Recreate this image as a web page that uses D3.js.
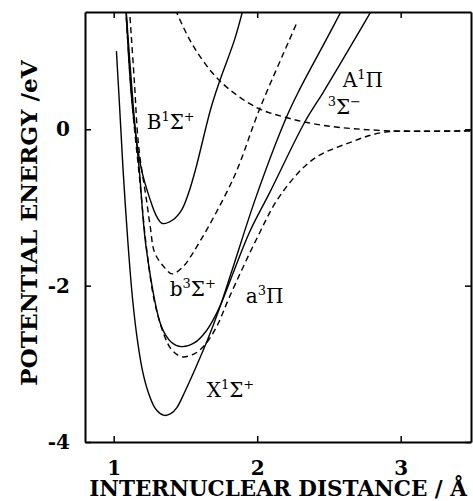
<!DOCTYPE html>
<html>
<head>
<meta charset="utf-8">
<script src="https://cdn.jsdelivr.net/npm/d3@7"></script>
<style>
  html, body { margin: 0; padding: 0; background: #fff; }
</style>
</head>
<body>
<div id="chart"></div>
<script>
// potential energy curves, [r (Å), E (eV)]
const stateX = [[1.019, 1.0], [1.042, 0.26], [1.065, -0.51], [1.10, -1.47], [1.132, -2.18], [1.167, -2.72],
  [1.202, -3.10], [1.240, -3.36], [1.286, -3.56], [1.32, -3.63], [1.355, -3.66], [1.40, -3.635],
  [1.44, -3.56], [1.495, -3.36], [1.576, -3.03], [1.655, -2.69], [1.739, -2.28], [1.822, -1.82],
  [1.994, -0.855], [2.203, 0.15], [2.296, 0.51], [2.482, 1.15], [2.60, 1.56]]
const stateA = [[1.085, 1.56], [1.138, 0.26], [1.178, -0.51], [1.228, -1.54], [1.332, -2.52], [1.40, -2.72],
  [1.472, -2.78], [1.564, -2.73], [1.641, -2.59], [1.704, -2.40], [1.760, -2.18], [1.815, -1.92],
  [1.948, -1.31], [2.087, -0.81], [2.331, 0.09], [2.459, 0.47], [2.679, 1.15], [2.81, 1.56]]
const stateB = [[1.085, 1.56], [1.132, 0.26], [1.193, -0.51], [1.254, -0.90], [1.298, -1.11], [1.339, -1.205],
  [1.411, -1.16], [1.474, -1.03], [1.523, -0.81], [1.571, -0.51], [1.676, 0.26], [1.739, 0.62],
  [1.843, 1.15], [1.905, 1.56]]
const stateb = [[1.109, 1.56], [1.143, 0.64], [1.174, -0.22], [1.228, -0.90], [1.255, -1.25], [1.286, -1.58],
  [1.355, -1.77], [1.408, -1.85], [1.477, -1.77], [1.553, -1.58], [1.831, -0.64], [2.017, 0.26],
  [2.226, 1.15], [2.282, 1.385]]
const statea = [[1.083, 1.56], [1.132, 0.26], [1.181, -0.64], [1.23, -1.54], [1.286, -2.22], [1.355, -2.65],
  [1.404, -2.82], [1.474, -2.91], [1.564, -2.87], [1.634, -2.76], [1.716, -2.53], [1.808, -2.14],
  [1.994, -1.41], [2.157, -0.855], [2.389, -0.385], [2.645, -0.17], [2.877, -0.04], [3.2, -0.025], [3.5, -0.02]]
const stateSigmaMinus = [[1.43, 1.53], [1.553, 1.07], [1.739, 0.62], [1.994, 0.28], [2.203, 0.15],
  [2.459, 0.05], [2.923, -0.02], [3.5, -0.02]]

const xTicks = [1, 2, 3]
const yTicks = [0, -2, -4]

const curves = [
  {points: stateX, dashed: false},
  {points: stateA, dashed: false},
  {points: stateB, dashed: false},
  {points: stateb, dashed: true},
  {points: statea, dashed: true},
  {points: stateSigmaMinus, dashed: true},
]

// state labels: parts with superscript flags, anchored at (r, E)
const labels = [
  {parts: [["B"], ["1", 1], ["Σ"], ["+", 1]], r: 1.23, e: 0.0},
  {parts: [["A"], ["1", 1], ["Π"]], r: 2.596, e: 0.54},
  {parts: [["3", 1], ["Σ"], ["−", 1]], r: 2.491, e: 0.19},
  {parts: [["b"], ["3", 1], ["Σ"], ["+", 1]], r: 1.39, e: -2.13},
  {parts: [["a"], ["3", 1], ["Π"]], r: 1.92, e: -2.22},
  {parts: [["X"], ["1", 1], ["Σ"], ["+", 1]], r: 1.648, e: -3.42},
]

let width = 473
let height = 501
let margin = {top: 12, right: 2, bottom: 59, left: 85}
let inner_w = width - margin.left - margin.right
let inner_h = height - margin.top - margin.bottom

let serif = "DejaVu Serif"

let x = d3.scaleLinear().domain([0.8, 3.49]).range([0, inner_w])
let y = d3.scaleLinear().domain([-4, 1.5]).range([inner_h, 0])

let svg = d3.select("#chart").append("svg")
  .attr("width", width)
  .attr("height", height)
  .attr("viewBox", [0, 0, width, height])

let g = svg.append("g").attr("transform", `translate(${margin.left},${margin.top})`)

g.append("clipPath").attr("id", "plot-clip")
  .append("rect").attr("width", inner_w).attr("height", inner_h)

// curves
let line = d3.line()
  .x(d => x(d[0]))
  .y(d => y(d[1]))
  .curve(d3.curveCatmullRom.alpha(0.5))

g.append("g").attr("clip-path", "url(#plot-clip)")
  .selectAll("path")
  .data(curves)
  .join("path")
  .attr("d", d => line(d.points))
  .attr("fill", "none")
  .attr("stroke", "#000")
  .attr("stroke-width", 1.4)
  .attr("stroke-dasharray", d => d.dashed ? "6,4" : null)

// axes, ticks pointing inward
let styleAxis = sel => {
  sel.select(".domain").attr("stroke-width", 2)
  sel.selectAll(".tick line").attr("stroke-width", 1.5)
  sel.selectAll("text")
    .attr("font-family", serif).attr("font-weight", "bold").attr("font-size", 20).attr("fill", "#000")
}

g.append("g").attr("transform", `translate(0,${inner_h})`)
  .call(d3.axisBottom(x).tickValues(xTicks).tickSizeInner(-6).tickSizeOuter(0).tickPadding(19).tickFormat(d3.format("d")))
  .call(styleAxis)

g.append("g")
  .call(d3.axisTop(x).tickValues(xTicks).tickSizeInner(-6).tickSizeOuter(0).tickFormat(""))
  .call(styleAxis)

g.append("g")
  .call(d3.axisLeft(y).tickValues(yTicks).tickSizeInner(-6).tickSizeOuter(0).tickPadding(15).tickFormat(d3.format("d")))
  .call(styleAxis)

g.append("g").attr("transform", `translate(${inner_w},0)`)
  .call(d3.axisRight(y).tickValues(yTicks).tickSizeInner(-6).tickSizeOuter(0).tickFormat(""))
  .call(styleAxis)

// hyphen-style minus like the original
g.selectAll(".tick text").text(function() { return this.textContent.replace("−", "-") })

// state labels
let lab = g.append("g")
  .selectAll("text")
  .data(labels)
  .join("text")
  .attr("x", d => x(d.r))
  .attr("y", d => y(d.e))
  .attr("font-family", serif)
  .attr("font-size", 20)
  .attr("fill", "#000")

lab.each(function(d) {
  let t = d3.select(this)
  let raised = false
  d.parts.forEach(([s, sup]) => {
    let dy = 0
    if (sup && !raised) { dy = -8; raised = true }
    if (!sup && raised) { dy = 8; raised = false }
    t.append("tspan")
      .attr("dy", dy)
      .attr("font-size", sup ? 13 : 20)
      .text(s)
  })
})

// axis titles, sized to the width they take in the figure
let fitText = (sel, target) => {
  let w = sel.node().getComputedTextLength()
  sel.attr("font-size", 20 * target / w)
}

let xTitle = svg.append("text")
  .attr("x", margin.left + 193)
  .attr("y", 496)
  .style("text-anchor", "middle")
  .attr("font-family", serif).attr("font-weight", "bold").attr("font-size", 20)
  .text("INTERNUCLEAR DISTANCE / Å")
fitText(xTitle, 378)

let yTitle = svg.append("text")
  .attr("transform", `translate(37,${223}) rotate(-90)`)
  .style("text-anchor", "middle")
  .attr("font-family", serif).attr("font-weight", "bold").attr("font-size", 20)
  .text("POTENTIAL ENERGY /eV")
fitText(yTitle, 326)
</script>
</body>
</html>
